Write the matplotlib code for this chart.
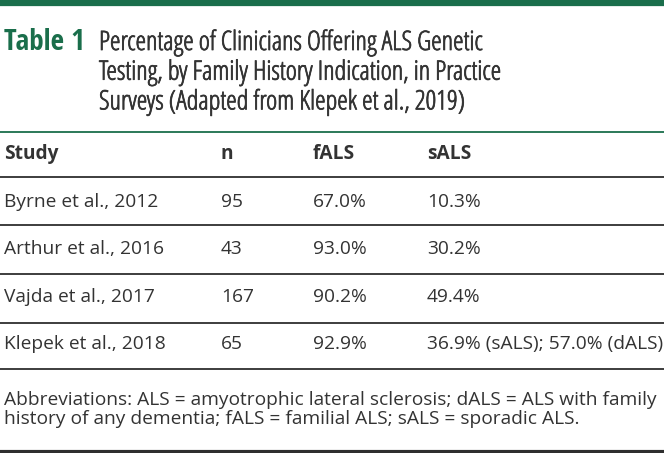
import matplotlib
matplotlib.use("Agg")
import matplotlib.pyplot as plt
from matplotlib.lines import Line2D
from matplotlib import font_manager as fm
from matplotlib import patheffects as pe

# ---- data ----
title_label = "Table 1"
title_lines = [
    "Percentage of Clinicians Offering ALS Genetic",
    "Testing, by Family History Indication, in Practice",
    "Surveys (Adapted from Klepek et al., 2019)",
]
columns = ["Study", "n", "fALS", "sALS"]
studies = ["Byrne et al., 2012", "Arthur et al., 2016", "Vajda et al., 2017", "Klepek et al., 2018"]
n_values = ["95", "43", "167", "65"]
fals = ["67.0%", "93.0%", "90.2%", "92.9%"]
sals = ["10.3%", "30.2%", "49.4%", "36.9% (sALS); 57.0% (dALS)"]
footnote = [
    "Abbreviations: ALS = amyotrophic lateral sclerosis; dALS = ALS with family",
    "history of any dementia; fALS = familial ALS; sALS = sporadic ALS.",
]

# ---- layout (pixels) ----
W, H = 664, 453
GREEN = "#1a6e4b"
TEXT = "#333333"
LINE = "#2e2e2e"
FONT = "Open Sans"

fig = plt.figure(figsize=(W / 100, H / 100), dpi=100)
fig.patch.set_facecolor("white")
renderer = fig.canvas.get_renderer()


def wnum(w):
    if isinstance(w, int):
        return w
    return {"light": 300, "normal": 400, "regular": 400, "book": 400, "medium": 500,
            "semibold": 600, "demibold": 600, "bold": 700, "heavy": 800, "black": 900}.get(str(w).lower(), 400)


def is_cond(f):
    s = f.stretch
    if isinstance(s, (int, float)):
        return s < 100
    return "condensed" in str(s).lower() or "Condensed" in f.name


def fitted_size(fp, s, target_px, base=17.5):
    p = fp.copy()
    p.set_size(base)
    t = fig.text(0, 0, s, fontproperties=p)
    w = t.get_window_extent(renderer).width
    t.remove()
    return base * target_px / w


def pick_title_font(s, target_px, target_pt, target_weight):
    cands = [f for f in fm.fontManager.ttflist
             if f.name.startswith("Open Sans") and f.style == "normal" and is_cond(f)]
    best, best_score, best_size = None, None, None
    for f in cands:
        fp = fm.FontProperties(fname=f.fname)
        try:
            size = fitted_size(fp, s, target_px)
        except Exception:
            continue
        score = abs(size - target_pt) + abs(wnum(f.weight) - target_weight) / 100 * 1.5
        if best_score is None or score < best_score:
            best, best_score, best_size = fp, score, size
    if best is None:
        best = fm.FontProperties(family=FONT, weight=target_weight)
        best_size = fitted_size(best, s, target_px)
    return best, best_size


def fy(y):
    return 1 - y / H


def fx(x):
    return x / W


def hline(y, lw, color, x0=0, x1=W):
    fig.add_artist(Line2D([fx(x0), fx(x1)], [fy(y), fy(y)], lw=lw, color=color,
                          transform=fig.transFigure, solid_capstyle="butt"))


def txt(x, y, s, size, color=TEXT, weight="normal"):
    return fig.text(fx(x), fy(y), s, fontsize=size, color=color, fontweight=weight,
                    family=FONT, ha="left", va="baseline")


def ftxt(x, y, s, fp, size, color, stroke=0.0):
    p = fp.copy()
    p.set_size(size)
    t = fig.text(fx(x), fy(y), s, fontproperties=p, color=color, ha="left", va="baseline")
    if stroke > 0:
        t.set_path_effects([pe.withStroke(linewidth=stroke, foreground=color)])
    return t


# top green bar
hline(3, 4.5, GREEN)

# title: condensed Open Sans face sized to the reference's line width
lab_fp, lab_size = pick_title_font(title_label, 81, 18.1, 700)
ftxt(4, 50, title_label, lab_fp, lab_size, GREEN)
ttl_fp, ttl_size = pick_title_font(title_lines[0], 383, 18.1, 400)
for i, line in enumerate(title_lines):
    ftxt(99, 50 + i * 29.7, line, ttl_fp, ttl_size, TEXT, stroke=0.55)

# green rule under title
hline(132, 1.3, GREEN)

BODY = 13.8
col_x = [4, 221, 313, 427]
for x, c in zip(col_x, columns):
    txt(x, 159, c, BODY, TEXT, "bold")

row_lines = [177, 225, 274, 323, 369]
baselines = [207, 254, 302, 349]
for y in row_lines:
    hline(y, 1.3, LINE)

for i in range(len(studies)):
    vals = [studies[i], n_values[i], fals[i], sals[i]]
    for x, v in zip(col_x, vals):
        txt(x, baselines[i], v, BODY)

for i, line in enumerate(footnote):
    txt(4, 405 + i * 19, line, BODY)

hline(451.5, 3, LINE)

fig.savefig("out.png", dpi=100, facecolor="white")
